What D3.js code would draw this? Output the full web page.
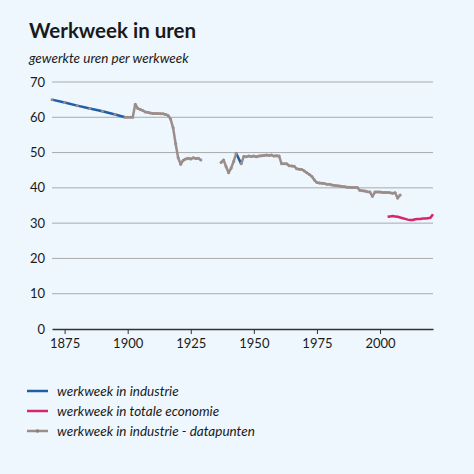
<!DOCTYPE html>
<html>
<head>
<meta charset="utf-8">
<script src="https://cdn.jsdelivr.net/npm/d3@7"></script>
<style>
  body { margin: 0; background: #eef7fd; }
  text { font-family: Lato, "Open Sans", sans-serif; fill: #1a1a1a; }
</style>
</head>
<body>
<script>
// DATA
var industrieYears  = [1870, 1875, 1880, 1885, 1890, 1895, 1899, 1943, 1945];
var industrieValues = [65, 64.2, 63.3, 62.5, 61.7, 60.8, 60, 49.8, 46.8];

var totaalYears  = [2003, 2004, 2005, 2006, 2007, 2008, 2009, 2010, 2011, 2012, 2013, 2014, 2015, 2016, 2017, 2018, 2019, 2020, 2021];
var totaalValues = [31.8, 31.9, 32, 31.9, 31.8, 31.6, 31.4, 31.2, 31, 30.9, 30.9, 31.1, 31.2, 31.2, 31.3, 31.3, 31.4, 31.5, 32.5];

var puntenYears = [1870, 1875, 1880, 1885, 1890, 1895,
  1899, 1900, 1901, 1902, 1903, 1904, 1905, 1906, 1907, 1908, 1909, 1910, 1911, 1912, 1913, 1914,
  1915, 1916, 1917, 1918, 1919, 1920, 1921, 1922, 1923, 1924, 1925, 1926, 1927, 1928, 1929,
  1937, 1938, 1939, 1940, 1941, 1942, 1943,
  1945, 1946, 1947, 1948, 1949, 1950, 1951, 1952, 1953, 1954, 1955, 1956, 1957, 1958, 1959,
  1960, 1961, 1962, 1963, 1964, 1965, 1966, 1967, 1968, 1969, 1970, 1971, 1972, 1973, 1974,
  1975, 1976, 1977, 1978, 1979, 1980, 1981, 1982, 1983, 1984, 1985, 1986, 1987, 1988, 1989,
  1990, 1991, 1992, 1993, 1994, 1995, 1996, 1997, 1998, 1999, 2000, 2001, 2002, 2003, 2004,
  2005, 2006, 2007, 2008];
var puntenValues = [65, 64.2, 63.3, 62.5, 61.7, 60.8,
  60, 60, 60, 60, 63.7, 62.5, 62.2, 61.9, 61.5, 61.4, 61.2, 61.1, 61.1, 61.1, 61, 61,
  60.8, 60.5, 59.5, 57, 52.5, 48.5, 46.7, 47.8, 48.2, 48.4, 48.2, 48.5, 48.3, 48.4, 47.9,
  47.2, 47.9, 46, 44.3, 45.6, 47.5, 49.8,
  46.8, 48.9, 48.8, 49, 48.9, 49, 48.8, 49, 49.1, 49.2, 49.3, 49.2, 49.3, 49, 49.1,
  49, 46.8, 46.8, 46.8, 46.3, 46.2, 46.1, 45.4, 45.3, 45.2, 44.8, 44.3, 43.8, 43.2, 42.2,
  41.5, 41.4, 41.3, 41.2, 41, 41, 40.8, 40.7, 40.6, 40.5, 40.4, 40.3, 40.2, 40.2, 40.1,
  40.1, 40.1, 39.3, 39.2, 39.1, 38.9, 38.8, 37.6, 38.8, 38.8, 38.8, 38.7, 38.7, 38.7, 38.6,
  38.5, 38.6, 37.1, 38];

var xTicks = [1875, 1900, 1925, 1950, 1975, 2000];
var yTicks = [0, 10, 20, 30, 40, 50, 60, 70];

var legendLabels = ["werkweek in industrie", "werkweek in totale economie", "werkweek in industrie - datapunten"];
var colors = ["#1f5ea8", "#d4276f", "#9b8d89"];

// Layout
var width = 474, height = 474;
var margin = { top: 82, right: 41, bottom: 145, left: 52 };

var svg = d3.select("body")
    .append("svg")
    .attr("width", width)
    .attr("height", height);

svg.append("rect")
    .attr("width", width)
    .attr("height", height)
    .attr("fill", "#eef7fd");

// Titles
svg.append("text")
    .attr("x", 29)
    .attr("y", 38)
    .attr("font-size", "20.5px")
    .attr("font-weight", "bold")
    .text("Werkweek in uren");

svg.append("text")
    .attr("x", 29)
    .attr("y", 63)
    .attr("font-size", "13.5px")
    .attr("font-style", "italic")
    .text("gewerkte uren per werkweek");

// SCALES
var x = d3.scaleLinear()
    .domain([1870, 2021])
    .range([margin.left, width - margin.right]);

var y = d3.scaleLinear()
    .domain([0, 70])
    .range([height - margin.bottom, margin.top]);

// Grid
svg.append("g")
    .selectAll("line")
    .data(yTicks.filter(function (d) { return d > 0; }))
    .enter()
    .append("line")
    .attr("x1", x(1870))
    .attr("x2", x(2021))
    .attr("y1", function (d) { return y(d); })
    .attr("y2", function (d) { return y(d); })
    .attr("stroke", "#a9abad")
    .attr("stroke-width", 1);

// Y labels
svg.append("g")
    .selectAll("text")
    .data(yTicks)
    .enter()
    .append("text")
    .attr("x", 45)
    .attr("y", function (d) { return y(d); })
    .attr("dy", "0.35em")
    .attr("text-anchor", "end")
    .attr("font-size", "13px")
    .text(function (d) { return d; });

// X axis
var bottomAxis = d3.axisBottom(x)
    .tickValues(xTicks)
    .tickFormat(function (d) { return d; })
    .tickSize(5)
    .tickSizeOuter(0);

var xAxis = svg.append("g")
    .attr("transform", "translate(0," + y(0) + ")")
    .call(bottomAxis);
xAxis.select(".domain").attr("stroke", "#333").attr("stroke-width", 1.5);
xAxis.selectAll(".tick line").attr("stroke", "#333").attr("stroke-width", 1);
xAxis.selectAll(".tick text")
    .attr("y", 10)
    .attr("font-size", "13px")
    .attr("font-family", "Lato, 'Open Sans', sans-serif")
    .attr("fill", "#1a1a1a");

// split series into runs where the year gap is small enough
function segments(years, values, maxGap) {
    var out = [], cur = [];
    years.forEach(function (yr, i) {
        if (cur.length && yr - cur[cur.length - 1][0] > maxGap) {
            out.push(cur);
            cur = [];
        }
        cur.push([yr, values[i]]);
    });
    if (cur.length) out.push(cur);
    return out;
}

var line = d3.line()
    .x(function (d) { return x(d[0]); })
    .y(function (d) { return y(d[1]); });

var series = [
    { segs: segments(industrieYears, industrieValues, 5), color: colors[0] },
    { segs: segments(totaalYears, totaalValues, 1), color: colors[1] },
    { segs: segments(puntenYears, puntenValues, 1), color: colors[2] }
];

series.forEach(function (s) {
    svg.append("g")
        .selectAll("path")
        .data(s.segs.filter(function (seg) { return seg.length > 1; }))
        .enter()
        .append("path")
        .attr("d", line)
        .attr("fill", "none")
        .attr("stroke", s.color)
        .attr("stroke-width", 2.5)
        .attr("stroke-linejoin", "round");
});

// markers for datapunten
svg.append("g")
    .selectAll("circle")
    .data(puntenYears)
    .enter()
    .append("circle")
    .attr("cx", function (d) { return x(d); })
    .attr("cy", function (d, i) { return y(puntenValues[i]); })
    .attr("r", 1.5)
    .attr("fill", colors[2]);

// Legend
var legend = svg.append("g")
    .selectAll("g")
    .data(legendLabels)
    .enter()
    .append("g")
    .attr("transform", function (d, i) { return "translate(27," + (391 + i * 20) + ")"; });

legend.append("line")
    .attr("x1", 0)
    .attr("x2", 21)
    .attr("stroke", function (d, i) { return colors[i]; })
    .attr("stroke-width", 2.5);

legend.filter(function (d, i) { return i === 2; })
    .append("circle")
    .attr("cx", 10.5)
    .attr("r", 1.8)
    .attr("fill", "#8a7f7c");

legend.append("text")
    .attr("x", 30)
    .attr("dy", "0.35em")
    .attr("font-size", "13.5px")
    .attr("font-style", "italic")
    .text(function (d) { return d; });
</script>
</body>
</html>
